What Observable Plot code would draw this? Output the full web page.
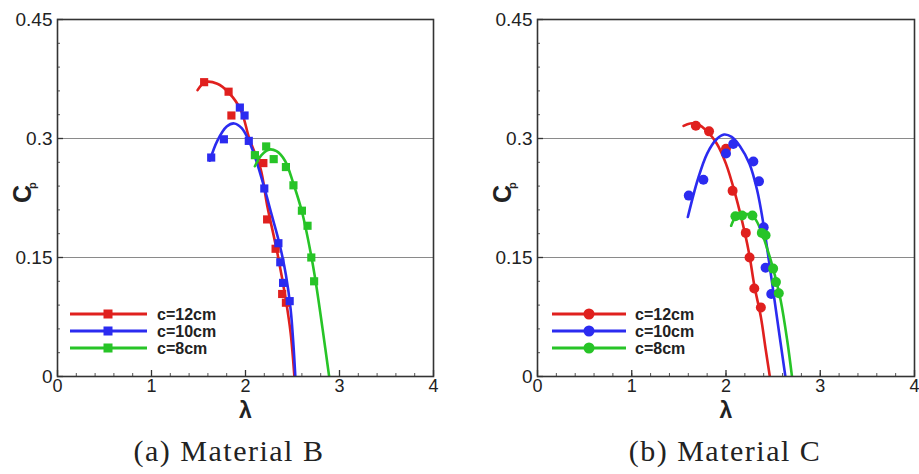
<!DOCTYPE html>
<html><head><meta charset="utf-8">
<script src="https://cdn.jsdelivr.net/npm/d3@7"></script>
<script src="https://cdn.jsdelivr.net/npm/@observablehq/plot@0.6"></script>
<style>
body{margin:0;background:#fff;}
#wrap{position:relative;width:919px;height:474px;overflow:hidden;background:#fff;}
.panel{position:absolute;top:0;}
.panel svg{overflow:visible;}
.cap{position:absolute;font-family:'Liberation Serif','DejaVu Serif','Noto Serif',serif;font-size:30px;letter-spacing:1.5px;white-space:nowrap;transform:translateX(-50%);top:436px;line-height:1;color:#222;}
.legend{position:absolute;left:0;top:0;}
</style></head><body><div id="wrap"></div>
<script>
// ---------- shared labels / ticks ----------
const seriesLabels = ["c=12cm", "c=10cm", "c=8cm"];
const seriesColors = ["#e0201e", "#2b2bf0", "#27c427"];
const xTicks = [0, 1, 2, 3, 4];
const yTicks = [0, 0.15, 0.3, 0.45];
const gridY = [0.15, 0.3];
const captions = ["(a) Material B", "(b) Material C"];

// ---------- (a) Material B : measured points ----------
const bRedX  = [1.56, 1.82, 1.85, 2.19, 2.23, 2.32, 2.39, 2.43];
const bRedY  = [0.371, 0.359, 0.329, 0.269, 0.198, 0.161, 0.104, 0.093];
const bBlueX = [1.635, 1.77, 1.94, 1.99, 2.035, 2.20, 2.35, 2.37, 2.40, 2.47];
const bBlueY = [0.276, 0.299, 0.339, 0.329, 0.297, 0.237, 0.168, 0.144, 0.118, 0.095];
const bGreenX = [2.10, 2.22, 2.30, 2.43, 2.51, 2.60, 2.66, 2.70, 2.73];
const bGreenY = [0.279, 0.290, 0.274, 0.264, 0.241, 0.209, 0.190, 0.150, 0.120];
// (a) fitted curves
const bRedFitX  = [1.49, 1.57, 1.70, 1.82, 1.95, 2.04, 2.16, 2.23, 2.34, 2.43, 2.48, 2.52];
const bRedFitY  = [0.361, 0.371, 0.369, 0.358, 0.336, 0.300, 0.262, 0.216, 0.155, 0.096, 0.055, 0];
const bBlueFitX = [1.62, 1.70, 1.80, 1.88, 1.96, 2.04, 2.12, 2.20, 2.28, 2.36, 2.43, 2.48, 2.51, 2.53];
const bBlueFitY = [0.272, 0.297, 0.315, 0.319, 0.313, 0.296, 0.270, 0.238, 0.203, 0.168, 0.128, 0.085, 0.040, 0];
const bGreenFitX = [2.10, 2.17, 2.25, 2.33, 2.42, 2.51, 2.60, 2.69, 2.75, 2.82, 2.89];
const bGreenFitY = [0.265, 0.279, 0.286, 0.284, 0.272, 0.243, 0.208, 0.158, 0.117, 0.060, 0];

// ---------- (b) Material C : measured points ----------
const cRedX  = [1.68, 1.82, 2.00, 2.07, 2.21, 2.25, 2.30, 2.37];
const cRedY  = [0.316, 0.309, 0.287, 0.234, 0.181, 0.150, 0.111, 0.087];
const cBlueX = [1.605, 1.76, 2.00, 2.077, 2.29, 2.35, 2.40, 2.42, 2.48];
const cBlueY = [0.228, 0.248, 0.281, 0.293, 0.271, 0.246, 0.188, 0.137, 0.104];
const cGreenX = [2.10, 2.17, 2.28, 2.38, 2.42, 2.50, 2.53, 2.56];
const cGreenY = [0.202, 0.203, 0.203, 0.181, 0.178, 0.136, 0.119, 0.105];
// (b) fitted curves
const cRedFitX  = [1.55, 1.62, 1.70, 1.80, 1.90, 2.00, 2.10, 2.20, 2.25, 2.30, 2.37, 2.42, 2.465];
const cRedFitY  = [0.316, 0.319, 0.318, 0.309, 0.294, 0.268, 0.229, 0.181, 0.152, 0.115, 0.075, 0.035, 0];
const cBlueFitX = [1.595, 1.70, 1.80, 1.90, 1.98, 2.06, 2.15, 2.25, 2.33, 2.40, 2.47, 2.54, 2.63];
const cBlueFitY = [0.201, 0.248, 0.281, 0.299, 0.305, 0.302, 0.290, 0.268, 0.235, 0.190, 0.134, 0.075, 0];
const cGreenFitX = [2.055, 2.10, 2.20, 2.30, 2.38, 2.44, 2.50, 2.58, 2.65, 2.70];
const cGreenFitY = [0.190, 0.200, 0.205, 0.200, 0.181, 0.160, 0.136, 0.096, 0.045, 0];

function rows(xs, ys, s) { return xs.map((x, i) => ({x, y: ys[i], s})); }

const panels = [
  {
    left: 0, width: 460, mL: 57, mR: 27, symbol: "square", r: 4.6,
    pts: [...rows(bRedX, bRedY, seriesLabels[0]), ...rows(bBlueX, bBlueY, seriesLabels[1]), ...rows(bGreenX, bGreenY, seriesLabels[2])],
    fits: [...rows(bRedFitX, bRedFitY, seriesLabels[0]), ...rows(bBlueFitX, bBlueFitY, seriesLabels[1]), ...rows(bGreenFitX, bGreenFitY, seriesLabels[2])],
    capX: 229, leg: {x1: 70, x2: 147, xm: 108, xt: 157, y0: 314, dy: 17}
  },
  {
    left: 460, width: 459, mL: 77, mR: 5, symbol: "circle", r: 5,
    pts: [...rows(cRedX, cRedY, seriesLabels[0]), ...rows(cBlueX, cBlueY, seriesLabels[1]), ...rows(cGreenX, cGreenY, seriesLabels[2])],
    fits: [...rows(cRedFitX, cRedFitY, seriesLabels[0]), ...rows(cBlueFitX, cBlueFitY, seriesLabels[1]), ...rows(cGreenFitX, cGreenFitY, seriesLabels[2])],
    capX: 265, leg: {x1: 92, x2: 166, xm: 129, xt: 175, y0: 314, dy: 17}
  }
];

const H = 420, mT = 19, mB = 44;
const frameH = H - mT - mB;
const xMinor = d3.range(0, 4.001, 0.2);
const yMinor = d3.range(0, 0.4501, 0.03);
const wrap = document.getElementById("wrap");

panels.forEach((p, k) => {
  const frameW = p.width - p.mL - p.mR;
  const chart = Plot.plot({
    width: p.width, height: H,
    marginLeft: p.mL, marginRight: p.mR, marginTop: mT, marginBottom: mB,
    style: {fontFamily: "'Liberation Sans', Arial, sans-serif", background: "transparent", color: "#222"},
    x: {domain: [0, 4]},
    y: {domain: [0, 0.45]},
    color: {domain: seriesLabels, range: seriesColors},
    marks: [
      Plot.ruleY(gridY, {stroke: "#8a8a8a", strokeWidth: 1}),
      // inward ticks (left / bottom only)
      Plot.ruleX(xMinor, {stroke: "#555", strokeWidth: 1, insetTop: frameH - 3}),
      Plot.ruleX(xTicks, {stroke: "#333", strokeWidth: 1.3, insetTop: frameH - 6}),
      Plot.ruleY(yMinor, {stroke: "#555", strokeWidth: 1, insetRight: frameW - 3}),
      Plot.ruleY(yTicks, {stroke: "#333", strokeWidth: 1.3, insetRight: frameW - 6}),
      Plot.axisX({ticks: xTicks, tickSize: 0, tickPadding: 3, fontSize: 18, tickFormat: d => String(d), label: null}),
      Plot.axisY({ticks: yTicks, tickSize: 0, tickPadding: 5, fontSize: 19, tickFormat: d => String(d), label: null}),
      Plot.line(p.fits, {x: "x", y: "y", z: "s", stroke: "s", strokeWidth: 2.6, curve: "catmull-rom", clip: true}),
      Plot.dot(p.pts, {x: "x", y: "y", fill: "s", symbol: p.symbol, r: p.r, stroke: "none"}),
      Plot.frame({stroke: "#333", strokeWidth: 1.6}),
      Plot.text(["λ"], {text: d => d, frameAnchor: "bottom", dy: 41, fontSize: 23, fontWeight: "bold"}),
      Plot.text(["C"], {text: d => d, frameAnchor: "left", dx: -35, dy: 5, rotate: -90, fontSize: 25, fontWeight: "bold"}),
      Plot.text(["p"], {text: d => d, frameAnchor: "left", dx: -25, dy: -9, rotate: -90, fontSize: 11, fontWeight: "bold"})
    ]
  });
  const div = document.createElement("div");
  div.className = "panel";
  div.style.left = p.left + "px";
  div.style.width = p.width + "px";
  div.style.height = "474px";
  div.appendChild(chart);

  // legend overlay
  const svg = d3.select(div).append("svg").attr("class", "legend")
    .attr("width", p.width).attr("height", 474);
  seriesLabels.forEach((lab, i) => {
    const y = p.leg.y0 + i * p.leg.dy;
    svg.append("line").attr("x1", p.leg.x1).attr("x2", p.leg.x2).attr("y1", y).attr("y2", y)
      .attr("stroke", seriesColors[i]).attr("stroke-width", 3);
    if (p.symbol === "square") {
      svg.append("rect").attr("x", p.leg.xm - 4.5).attr("y", y - 4.5).attr("width", 9).attr("height", 9).attr("fill", seriesColors[i]);
    } else {
      svg.append("circle").attr("cx", p.leg.xm).attr("cy", y).attr("r", 5.5).attr("fill", seriesColors[i]);
    }
    svg.append("text").attr("x", p.leg.xt).attr("y", y).attr("dy", "0.35em")
      .attr("font-family", "'Liberation Sans', Arial, sans-serif").attr("font-size", 16).attr("font-weight", "bold")
      .attr("fill", "#222").text(lab);
  });

  const cap = document.createElement("div");
  cap.className = "cap";
  cap.style.left = p.capX + "px";
  cap.textContent = captions[k];
  div.appendChild(cap);
  wrap.appendChild(div);
});
</script>
</body></html>
